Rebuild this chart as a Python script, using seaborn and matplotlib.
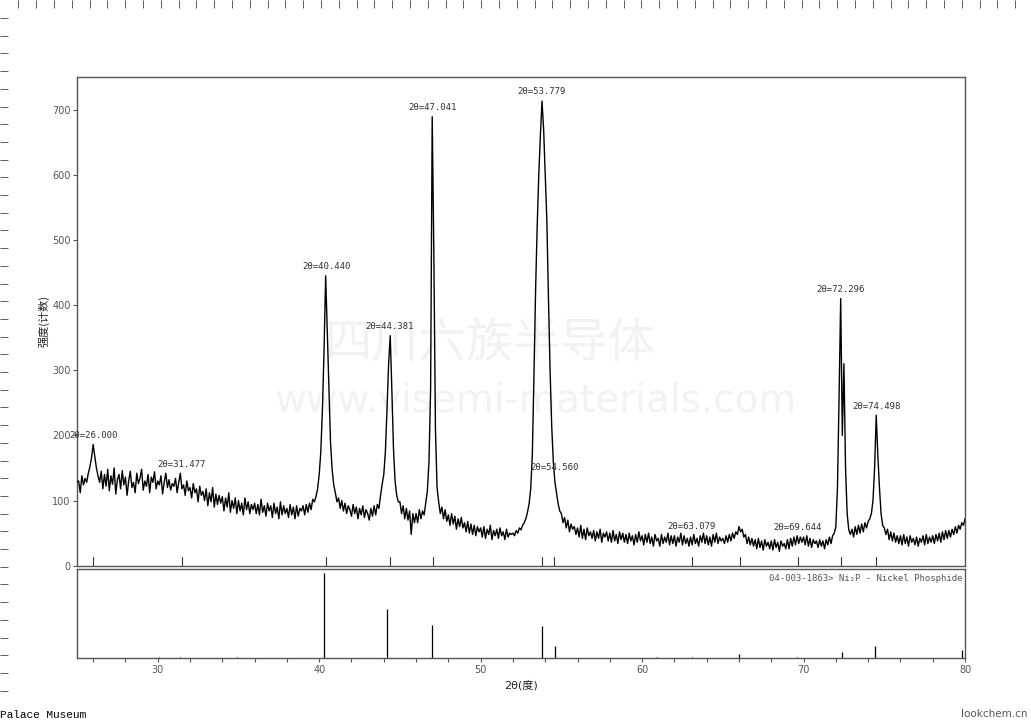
import numpy as np
import matplotlib
matplotlib.use("Agg")
import matplotlib.pyplot as plt
import seaborn as sns
import pandas as pd

# ------------------------------------------ Data ------------------------------------------ #
two_theta = np.arange(250, 801) / 10  # 25.0 .. 80.0, step 0.1

intensity = [
    129, 130, 112, 138, 124, 134, 128, 142, 152, 166,   # 25
    186, 168, 150, 138, 128, 145, 118, 140, 122, 148,   # 26
    115, 138, 125, 150, 110, 132, 140, 118, 146, 124,   # 27
    136, 108, 130, 145, 120, 128, 112, 142, 126, 134,   # 28
    148, 116, 130, 122, 140, 112, 136, 128, 144, 118,   # 29
    130, 124, 138, 110, 128, 142, 120, 132, 116, 126,   # 30
    122, 134, 112, 128, 142, 118, 124, 108, 130, 115,   # 31
    120, 104, 126, 112, 118, 98, 122, 108, 114, 100,    # 32
    118, 92, 112, 98, 120, 90, 110, 94, 108, 96,        # 33
    106, 84, 104, 90, 112, 82, 100, 88, 104, 80,        # 34
    100, 84, 96, 78, 104, 86, 98, 80, 94, 86,           # 35
    96, 80, 94, 78, 102, 82, 92, 76, 96, 84,            # 36
    92, 74, 96, 80, 90, 72, 98, 78, 92, 80,             # 37
    88, 74, 94, 78, 90, 72, 92, 76, 88, 84,             # 38
    92, 78, 94, 82, 96, 86, 102, 98, 106, 118,          # 39
    140, 175, 240, 330, 445, 360, 270, 190, 148, 124,   # 40
    112, 98, 104, 88, 100, 84, 96, 80, 92, 86,          # 41
    76, 94, 80, 90, 72, 88, 78, 92, 74, 86,             # 42
    80, 70, 88, 76, 92, 78, 94, 88, 108, 125,           # 43
    140, 175, 240, 310, 353, 270, 180, 130, 108, 98,    # 44
    98, 80, 92, 72, 88, 70, 84, 48, 80, 66,             # 45
    80, 66, 86, 72, 84, 78, 96, 115, 160, 270,          # 46
    689, 480, 210, 120, 98, 80, 90, 72, 86, 68,         # 47
    78, 62, 80, 64, 76, 56, 72, 60, 74, 58,             # 48
    66, 52, 68, 50, 64, 48, 62, 46, 60, 52,             # 49
    58, 44, 60, 42, 56, 48, 62, 40, 54, 46,             # 50
    56, 42, 58, 46, 52, 40, 56, 44, 50, 48,             # 51
    50, 46, 54, 50, 58, 55, 62, 66, 72, 82,             # 52
    95, 118, 170, 290, 420, 520, 600, 660, 713, 670,    # 53
    600, 530, 410, 300, 215, 160, 128, 112, 95, 84,     # 54
    80, 66, 74, 58, 70, 52, 64, 56, 60, 48,             # 55
    58, 44, 62, 42, 56, 40, 58, 46, 52, 42,             # 56
    54, 38, 52, 42, 56, 36, 50, 44, 52, 38,             # 57
    50, 36, 54, 38, 48, 34, 52, 40, 50, 36,             # 58
    48, 34, 50, 38, 46, 32, 48, 36, 52, 38,             # 59
    46, 32, 48, 36, 50, 34, 44, 30, 48, 38,             # 60
    42, 30, 48, 34, 44, 36, 50, 32, 46, 34,             # 61
    46, 30, 44, 36, 50, 32, 46, 34, 42, 30,             # 62
    44, 32, 48, 34, 42, 30, 46, 36, 50, 34,             # 63
    46, 32, 44, 30, 48, 36, 50, 34, 44, 38,             # 64
    42, 34, 46, 36, 48, 38, 50, 42, 52, 48,             # 65
    60, 52, 56, 44, 48, 34, 44, 32, 42, 30,             # 66
    40, 26, 42, 28, 38, 24, 40, 30, 36, 26,             # 67
    38, 24, 40, 28, 36, 22, 38, 30, 34, 26,             # 68
    40, 26, 42, 30, 44, 32, 46, 34, 44, 36,             # 69
    44, 32, 46, 30, 42, 28, 40, 34, 38, 28,             # 70
    40, 30, 38, 26, 40, 32, 44, 34, 46, 50,             # 71
    60, 120, 260, 410, 200, 310, 150, 80, 55, 48,       # 72
    56, 44, 60, 48, 62, 50, 64, 52, 66, 58,             # 73
    68, 72, 80, 100, 150, 231, 170, 120, 80, 62,        # 74
    58, 48, 56, 40, 52, 38, 50, 36, 46, 34,             # 75
    46, 32, 48, 34, 44, 30, 46, 36, 42, 32,             # 76
    44, 30, 42, 36, 46, 32, 48, 34, 44, 36,             # 77
    46, 34, 48, 38, 50, 36, 52, 40, 54, 42,             # 78
    54, 44, 56, 48, 60, 50, 62, 56, 66, 62,             # 79
    72,                                                 # 80
]

# labelled peaks and the height of the curve under each label
peak_pos = [26.000, 31.477, 40.440, 44.381, 47.041, 53.779, 54.560, 63.079, 69.644, 72.296, 74.498]
peak_top = [186, 142, 445, 353, 689, 713, 136, 46, 45, 410, 231]
extra_marker = [66.05]

# reference card 04-003-1863 (Ni2P), relative intensities
ref_pos = [40.3, 44.2, 47.0, 53.8, 54.6, 66.0, 72.4, 74.4, 79.8, 30.1, 31.4, 34.9, 60.9, 63.1, 69.6]
ref_int = [1.0, 0.575, 0.387, 0.376, 0.144, 0.05, 0.07, 0.144, 0.095, 0.02, 0.02, 0.02, 0.02, 0.02, 0.02]

# ------------------------------------------ Style ------------------------------------------ #
sns.set_style("white")
plt.rcParams['font.family'] = ['DejaVu Sans', 'Noto Sans CJK SC']
grey = "#555555"
mono = ['DejaVu Sans Mono', 'Noto Sans CJK SC']

df = pd.DataFrame({'2theta': two_theta, 'I': intensity})

fig = plt.figure(figsize=(10.31, 7.25), dpi=100)
ax = fig.add_axes([0.0747, 0.2197, 0.8613, 0.6741])
ax2 = fig.add_axes([0.0747, 0.0920, 0.8613, 0.1225])

# ------------------------------------------ Top panel: pattern ------------------------------------------ #
sns.lineplot(data=df, x='2theta', y='I', ax=ax, color='black', linewidth=1.0,
             estimator=None, sort=False, zorder=3)
ax.set_xlim(25, 80)
ax.set_ylim(0, 750)
ax.set_xticks([])
ax.set_yticks(range(0, 701, 100))
ax.tick_params(axis='y', left=True, length=3, width=0.8, color=grey,
               labelsize=7, labelcolor=grey, pad=1.5)
ax.set_xlabel('')
ax.set_ylabel('强度(计数)', fontsize=8, labelpad=2, family=['Noto Sans CJK SC'], color='#222222')
for s in ax.spines.values():
    s.set_color(grey)
    s.set_linewidth(1.0)

for p in peak_pos + extra_marker:
    ax.axvline(p, ymin=0, ymax=0.017, color='#333333', linewidth=0.8)
for p, h in zip(peak_pos, peak_top):
    ax.text(p, h + 14, f"2θ={p:.3f}", ha='center', va='center', fontsize=6.5,
            family=mono, color='#333333', zorder=4)

# watermark
ax.text(0.465, 0.452, '四川六族半导体', transform=ax.transAxes, ha='center', va='center',
        fontsize=34, color='#f2f2f2', family=['Noto Sans CJK SC'], zorder=1)
ax.text(0.516, 0.339, 'www.visemi-materials.com', transform=ax.transAxes, ha='center', va='center',
        fontsize=28, color='#f2f2f2', zorder=1)

# ------------------------------------------ Bottom panel: reference sticks ------------------------------------------ #
ax2.vlines(ref_pos, 0, ref_int, color='black', linewidth=0.9)
ax2.set_xlim(25, 80)
ax2.set_ylim(0, 1.037)
ax2.set_yticks([])
ax2.set_xticks(range(30, 81, 10))
ax2.set_xticks([t for t in range(26, 81, 2) if t % 10], minor=True)
ax2.tick_params(axis='x', which='both', bottom=True, length=3, width=0.8, color=grey,
                labelsize=7, labelcolor=grey, pad=2)
ax2.set_xlabel('2θ(度)', fontsize=8, labelpad=3, family=['DejaVu Sans', 'Noto Sans CJK SC'], color='#222222')
for s in ax2.spines.values():
    s.set_color(grey)
    s.set_linewidth(1.0)
ax2.text(0.997, 0.95, '04-003-1863> Ni₂P - Nickel Phosphide', transform=ax2.transAxes,
         ha='right', va='top', fontsize=6.5, family=mono, color=grey)

# ------------------------------------------ Page decorations ------------------------------------------ #
fig.text(0.0, 1 - 715 / 725, 'Palace Museum', fontsize=8, family=['Liberation Mono'],
         ha='left', va='center', color='black')
fig.text(961 / 1031, 1 - 714 / 725, 'lookchem.cn', fontsize=7.5, ha='left', va='center', color=grey)

rax = fig.add_axes([0, 0, 1, 1], facecolor='none')
rax.set_xlim(0, 1031)
rax.set_ylim(725, 0)
for s in rax.spines.values():
    s.set_visible(False)
rax.xaxis.tick_top()
rax.set_xticks(np.arange(18.4, 1031, 17.8))
rax.set_yticks(np.arange(18, 705, 17.7))
rax.tick_params(direction='in', length=6, width=0.6, color='#444444', top=True, left=True,
                bottom=False, right=False, labeltop=False, labelleft=False, labelbottom=False)

fig.savefig('out.png', dpi=100)
